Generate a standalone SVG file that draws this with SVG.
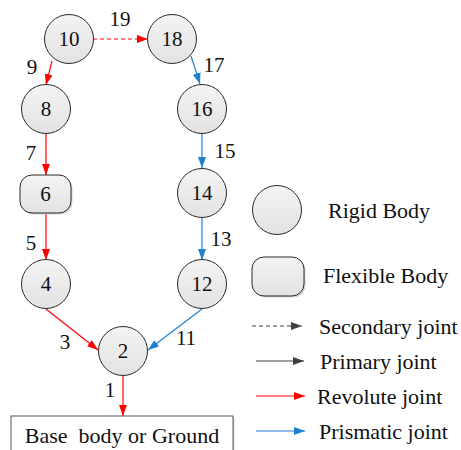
<svg xmlns="http://www.w3.org/2000/svg" width="461" height="450" viewBox="0 0 461 450">
  <defs>
    <linearGradient id="bodyFill" x1="0" y1="0" x2="0" y2="1">
      <stop offset="0" stop-color="#f4f4f4"/>
      <stop offset="1" stop-color="#e2e2e2"/>
    </linearGradient>
    <marker id="headRed" markerUnits="userSpaceOnUse" markerWidth="11" markerHeight="8" refX="11" refY="4" orient="auto">
      <path d="M0,0 L11,4 L0,8 z" fill="#ff0000"/>
    </marker>
    <marker id="headBlue" markerUnits="userSpaceOnUse" markerWidth="11" markerHeight="8" refX="11" refY="4" orient="auto">
      <path d="M0,0 L11,4 L0,8 z" fill="#1f7fd0"/>
    </marker>
    <marker id="headGray" markerUnits="userSpaceOnUse" markerWidth="11" markerHeight="8" refX="11" refY="4" orient="auto">
      <path d="M0,0 L11,4 L0,8 z" fill="#404040"/>
    </marker>
  </defs>
  <style>
    .body { fill: url(#bodyFill); stroke: #2a2a2a; stroke-width: 1; }
    .shadow { fill: #d4d4d4; }
    .lbl { font-family: "Liberation Serif", "Times New Roman", serif; font-size: 21px; fill: #111; text-anchor: middle; }
    .legend { font-family: "Liberation Serif", "Times New Roman", serif; font-size: 22px; fill: #111; }
    .rev { stroke: #ff0000; stroke-width: 1.2; fill: none; marker-end: url(#headRed); }
    .pri { stroke: #1f7fd0; stroke-width: 1.2; fill: none; marker-end: url(#headBlue); }
    .sec { stroke-dasharray: 4 3; }
    .gray { stroke: #404040; stroke-width: 1.2; fill: none; marker-end: url(#headGray); }
  </style>

  <!-- joints -->
  <g id="connectors">
    <line class="rev sec" x1="93" y1="39" x2="148" y2="39"/>
    <line class="rev" x1="52" y1="61" x2="46" y2="85"/>
    <line class="pri" x1="191" y1="56" x2="200" y2="84"/>
    <line class="rev" x1="46" y1="134" x2="46" y2="175"/>
    <line class="pri" x1="202" y1="134" x2="202" y2="168"/>
    <line class="rev" x1="46" y1="213" x2="46" y2="260"/>
    <line class="pri" x1="202" y1="218" x2="202" y2="260"/>
    <line class="rev" x1="46" y1="309" x2="98" y2="350"/>
    <line class="pri" x1="202" y1="309" x2="148" y2="350"/>
    <line class="rev" x1="123" y1="376" x2="123" y2="416"/>
    <text class="lbl" x="120" y="26">19</text>
    <text class="lbl" x="32" y="74">9</text>
    <text class="lbl" x="214" y="72">17</text>
    <text class="lbl" x="31" y="160">7</text>
    <text class="lbl" x="225" y="158">15</text>
    <text class="lbl" x="31" y="250">5</text>
    <text class="lbl" x="221" y="246">13</text>
    <text class="lbl" x="65" y="349">3</text>
    <text class="lbl" x="186" y="345">11</text>
    <text class="lbl" x="110" y="397">1</text>
  </g>

  <g id="n10"><circle class="body" cx="69" cy="39" r="24.5"/><text class="lbl" x="69" y="46">10</text></g>
  <g id="n18"><circle class="body" cx="172" cy="39" r="24.5"/><text class="lbl" x="172" y="46">18</text></g>
  <g id="n8"><circle class="body" cx="46" cy="109" r="24.5"/><text class="lbl" x="46" y="116">8</text></g>
  <g id="n16"><circle class="body" cx="202" cy="109" r="24.5"/><text class="lbl" x="202" y="116">16</text></g>
  <g id="n6">
    <rect class="shadow" x="21.5" y="176.5" width="51" height="38" rx="12"/>
    <rect class="body" x="20" y="175" width="51" height="38" rx="12"/>
    <text class="lbl" x="45.5" y="201">6</text>
  </g>
  <g id="n14"><circle class="body" cx="202" cy="193" r="24.5"/><text class="lbl" x="202" y="200">14</text></g>
  <g id="n4"><circle class="body" cx="46" cy="284" r="24.5"/><text class="lbl" x="46" y="291">4</text></g>
  <g id="n12"><circle class="body" cx="202" cy="284" r="24.5"/><text class="lbl" x="202" y="291">12</text></g>
  <g id="n2"><circle class="body" cx="123" cy="351" r="24.5"/><text class="lbl" x="123" y="358">2</text></g>
  <g id="base">
    <rect x="12.5" y="417.5" width="222" height="40" fill="#d4d4d4"/>
    <rect x="11" y="416" width="222" height="40" fill="#ffffff" stroke="#555" stroke-width="1"/>
    <text class="legend" x="122" y="443" text-anchor="middle" style="white-space:pre">Base  body or Ground</text>
  </g>

  <!-- legend -->
  <g id="legend-rigid">
    <circle class="body" cx="277" cy="210" r="24.5"/>
    <text class="legend" x="328" y="218">Rigid Body</text>
  </g>
  <g id="legend-flexible">
    <rect class="shadow" x="253.5" y="258.5" width="52" height="39" rx="12"/>
    <rect class="body" x="252" y="257" width="52" height="39" rx="12"/>
    <text class="legend" x="323" y="283">Flexible Body</text>
  </g>
  <g id="legend-joints">
    <line class="gray sec" x1="252" y1="326" x2="302" y2="326"/>
    <text class="legend" x="319" y="334">Secondary joint</text>
    <line class="gray" x1="256" y1="361" x2="304" y2="361"/>
    <text class="legend" x="320" y="369">Primary joint</text>
    <line class="rev" x1="256" y1="396" x2="305" y2="396"/>
    <text class="legend" x="317" y="404">Revolute joint</text>
    <line class="pri" x1="256" y1="431" x2="305" y2="431"/>
    <text class="legend" x="319" y="439">Prismatic joint</text>
  </g>
</svg>
